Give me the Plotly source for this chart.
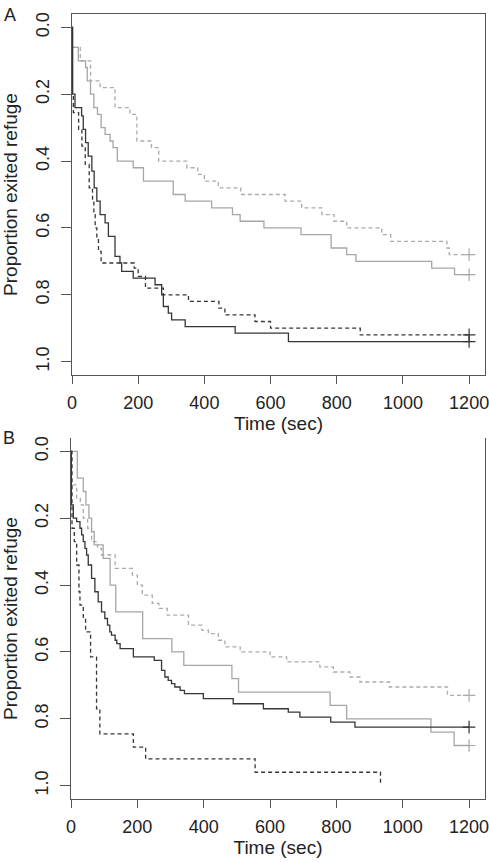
import plotly.graph_objects as go

# ---------------- data (time in sec, proportion exited refuge) ----------------
# Panel A
A_black_solid_t = [0, 2, 9, 29, 34, 41, 49, 60, 67, 75, 85, 100, 110, 130, 145, 150, 185, 251, 271, 276, 291, 301, 342, 493, 654, 1200]
A_black_solid_p = [0, 0.20, 0.24, 0.265, 0.305, 0.345, 0.385, 0.43, 0.48, 0.52, 0.56, 0.585, 0.625, 0.685, 0.705, 0.73, 0.75, 0.77, 0.80, 0.835, 0.855, 0.875, 0.895, 0.915, 0.94, 0.94]

A_black_dash_t = [0, 1, 4, 20, 30, 40, 52, 62, 66, 70, 75, 80, 88, 188, 200, 222, 276, 352, 444, 462, 553, 600, 871, 1200]
A_black_dash_p = [0, 0.20, 0.255, 0.305, 0.355, 0.41, 0.48, 0.52, 0.56, 0.60, 0.635, 0.67, 0.705, 0.72, 0.745, 0.78, 0.80, 0.82, 0.84, 0.86, 0.88, 0.90, 0.92, 0.92]

A_gray_solid_t = [0, 1, 19, 41, 46, 56, 66, 77, 88, 100, 115, 124, 137, 185, 216, 306, 342, 422, 485, 508, 580, 692, 783, 830, 858, 1087, 1156, 1200]
A_gray_solid_p = [0, 0.06, 0.10, 0.12, 0.16, 0.20, 0.24, 0.26, 0.30, 0.32, 0.34, 0.36, 0.40, 0.42, 0.46, 0.50, 0.52, 0.54, 0.56, 0.58, 0.60, 0.62, 0.66, 0.68, 0.70, 0.72, 0.74, 0.74]

A_gray_dash_t = [0, 1, 25, 56, 85, 130, 175, 196, 240, 262, 347, 380, 400, 442, 510, 644, 694, 755, 792, 830, 936, 963, 1133, 1140, 1200]
A_gray_dash_p = [0, 0.06, 0.10, 0.16, 0.18, 0.24, 0.26, 0.34, 0.36, 0.40, 0.42, 0.44, 0.46, 0.48, 0.50, 0.52, 0.54, 0.56, 0.58, 0.60, 0.62, 0.64, 0.66, 0.68, 0.68]

# Panel B
B_black_solid_t = [0, 1, 7, 17, 27, 32, 37, 42, 47, 52, 62, 72, 82, 92, 102, 110, 117, 122, 133, 138, 148, 188, 251, 273, 283, 293, 303, 313, 329, 342, 399, 489, 580, 655, 690, 783, 856, 1200]
B_black_solid_p = [0, 0.16, 0.20, 0.21, 0.23, 0.25, 0.27, 0.29, 0.31, 0.34, 0.38, 0.42, 0.45, 0.48, 0.50, 0.52, 0.54, 0.55, 0.565, 0.575, 0.59, 0.615, 0.625, 0.655, 0.675, 0.685, 0.695, 0.705, 0.715, 0.725, 0.74, 0.755, 0.77, 0.78, 0.795, 0.81, 0.825, 0.825]

B_black_dash_t = [0, 3, 10, 17, 24, 27, 37, 44, 59, 77, 87, 188, 225, 555, 933]
B_black_dash_p = [0, 0.23, 0.27, 0.34, 0.42, 0.46, 0.50, 0.54, 0.615, 0.77, 0.845, 0.885, 0.92, 0.96, 1.0]

B_gray_solid_t = [0, 19, 37, 45, 54, 62, 70, 97, 118, 135, 216, 304, 340, 485, 505, 781, 831, 1085, 1155, 1200]
B_gray_solid_p = [0, 0.08, 0.12, 0.16, 0.20, 0.24, 0.28, 0.32, 0.40, 0.48, 0.56, 0.60, 0.64, 0.68, 0.72, 0.76, 0.80, 0.84, 0.88, 0.88]

B_gray_dash_t = [0, 1, 17, 28, 37, 50, 62, 80, 92, 133, 185, 200, 215, 245, 265, 290, 354, 394, 414, 444, 464, 510, 600, 650, 750, 791, 841, 871, 960, 1135, 1200]
B_gray_dash_p = [0, 0.10, 0.14, 0.16, 0.20, 0.23, 0.27, 0.29, 0.31, 0.35, 0.37, 0.40, 0.43, 0.455, 0.47, 0.49, 0.52, 0.535, 0.545, 0.565, 0.585, 0.60, 0.615, 0.63, 0.645, 0.66, 0.675, 0.69, 0.705, 0.73, 0.73]

x_ticks = [0, 200, 400, 600, 800, 1000, 1200]
y_ticks = [0.0, 0.2, 0.4, 0.6, 0.8, 1.0]
y_tick_labels = ["0.0", "0.2", "0.4", "0.6", "0.8", "1.0"]
x_title = "Time (sec)"
y_title = "Proportion exited refuge"
panel_labels = ["A", "B"]

# ---------------- figure ----------------
W, H = 489, 862
DARK = "#363636"
GRAY = "#a6a6a6"
GRAY_D = "#ababab"
FONT = "Liberation Sans, Arial, sans-serif"
TXT = "#222"

fig = go.Figure()

def add_curve(xa, ya, t, p, color, dash, censor=True):
    fig.add_trace(go.Scatter(x=t, y=p, mode="lines", xaxis=xa, yaxis=ya,
                             line=dict(color=color, width=1.3, dash=dash, shape="hv"),
                             showlegend=False, hoverinfo="skip"))
    if censor:
        fig.add_trace(go.Scatter(x=[t[-1]], y=[p[-1]], mode="markers", xaxis=xa, yaxis=ya,
                                 marker=dict(symbol="cross-thin", size=9,
                                             line=dict(color=color, width=1.2)),
                                 showlegend=False, hoverinfo="skip"))

add_curve("x", "y", A_gray_dash_t, A_gray_dash_p, GRAY_D, "4px,3px")
add_curve("x", "y", A_gray_solid_t, A_gray_solid_p, GRAY, "solid")
add_curve("x", "y", A_black_dash_t, A_black_dash_p, DARK, "4px,3px")
add_curve("x", "y", A_black_solid_t, A_black_solid_p, DARK, "solid")

add_curve("x2", "y2", B_gray_dash_t, B_gray_dash_p, GRAY_D, "4px,3px")
add_curve("x2", "y2", B_gray_solid_t, B_gray_solid_p, GRAY, "solid")
add_curve("x2", "y2", B_black_dash_t, B_black_dash_p, DARK, "4px,3px", censor=False)
add_curve("x2", "y2", B_black_solid_t, B_black_solid_p, DARK, "solid")

def px_x(a, b):
    return [a / W, b / W]

def px_y(top, bottom):
    return [1 - bottom / H, 1 - top / H]

axis_common = dict(showline=True, linecolor="#555", linewidth=1, ticks="outside",
                   tickcolor="#555", tickwidth=1, showgrid=False, zeroline=False,
                   automargin=False, ticklabeloverflow="allow",
                   tickfont=dict(family=FONT, size=18, color=TXT))

xa_common = dict(axis_common, range=[0, 1248], tickvals=x_ticks, ticklen=8,
                 ticklabelstandoff=3,
                 title=dict(text=x_title, font=dict(family=FONT, size=19, color=TXT), standoff=2))
ya_common = dict(axis_common, range=[1.04, -0.04], tickvals=y_ticks, ticktext=y_tick_labels,
                 ticklen=10, tickangle=-90, ticklabelstandoff=5,
                 title=dict(text=y_title, font=dict(family=FONT, size=19, color=TXT), standoff=10))

fig.update_layout(
    width=W, height=H, margin=dict(l=0, r=0, t=0, b=0),
    paper_bgcolor="white", plot_bgcolor="white",
    xaxis=dict(xa_common, domain=px_x(72, 485), anchor="y", mirror=True),
    yaxis=dict(ya_common, domain=px_y(14, 375), anchor="x", mirror=True),
    xaxis2=dict(xa_common, domain=px_x(71, 485), anchor="y2", mirror=False),
    yaxis2=dict(ya_common, domain=px_y(438, 799), anchor="x2", mirror=True),
    annotations=[
        dict(text=panel_labels[0], x=2 / W, y=1 - 3 / H, xref="paper", yref="paper",
             xanchor="left", yanchor="top", showarrow=False,
             font=dict(family=FONT, size=18, color=TXT)),
        dict(text=panel_labels[1], x=1 / W, y=1 - 426 / H, xref="paper", yref="paper",
             xanchor="left", yanchor="top", showarrow=False,
             font=dict(family=FONT, size=18, color=TXT)),
    ],
)

fig.write_html("out.html")
